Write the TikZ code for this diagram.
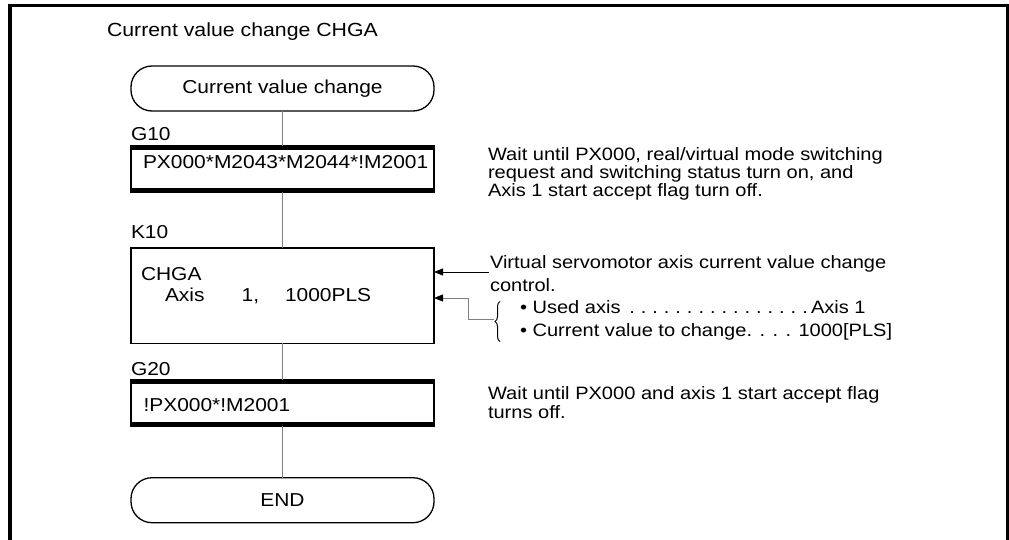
\documentclass[tikz,border=0pt]{standalone}
\usepackage{fontspec}
\setmainfont{Liberation Sans}[FakeStretch=1.12]
\usetikzlibrary{arrows.meta,decorations.pathreplacing}
\definecolor{conngray}{RGB}{128,128,128}
\begin{document}
\begin{tikzpicture}[x=1pt,y=-1pt,
  every node/.style={inner sep=0pt,outer sep=0pt},
  txt/.style={anchor=base west,font=\fontsize{17.9}{17.6}\selectfont},
  btxt/.style={anchor=base west,font=\fontsize{18.7}{18}\selectfont},
  term/.style={draw,line width=1.3pt,rounded corners=21pt,minimum width=303pt,minimum height=45pt,font=\fontsize{18.7}{18}\selectfont},
  cbox/.style={draw,line width=1.3pt,minimum width=303pt,fill=white},
  conn/.style={draw=conngray,line width=1pt},
  tip/.style={-{Triangle[length=9pt,width=7pt,color=black]}},
  frame/.style={line width=3.5pt}
]
\useasboundingbox (0,0) rectangle (1009,540);
% frame
\draw[frame] (9.8,548) -- (9.8,5.5) -- (1007.8,5.5) -- (1007.8,548);
% title
\node[btxt,font=\fontsize{19}{18}\selectfont] (title) at (107,36.7) {Current value change CHGA};
% flow nodes
\node[term] (start) at (282.5,88.5) {Current value change};
\node[cbox,minimum height=46.5pt] (g10) at (282.5,169.2) {};
\node[cbox,minimum height=95.3pt] (k10) at (282.5,295.6) {};
\node[cbox,minimum height=46pt] (g20) at (282.5,403) {};
\node[term] (end) at (282.5,500.2) {END};
% thick bars
\fill (g10.north west) rectangle ++(303,3.8);
\fill (g10.south west) rectangle ++(303,-4.2);
\fill (g20.north west) rectangle ++(303,4.2);
\fill (g20.south west) rectangle ++(303,-4.2);
% connectors
\draw[conn] (start) -- (g10);
\draw[conn] (g10) -- (k10);
\draw[conn] (k10) -- (g20);
\draw[conn] (g20) -- (end);
% step labels
\node[btxt] (lg10) at (131,141) {G10};
\node[btxt] (lk10) at (131,239) {K10};
\node[btxt] (lg20) at (131,375) {G20};
% box texts
\node[btxt] (tg10) at (143,169) {PX000*M2043*M2044*!M2001};
\node[btxt] (tk1) at (141,280) {CHGA};
\node[btxt] (tk2) at (165,301.7) {Axis};
\node[btxt] (tk3) at (241.7,301.7) {1,};
\node[btxt] (tk4) at (285,301.7) {1000PLS};
\node[btxt] (tg20) at (143.5,411.7) {!PX000*!M2001};
% comments
\node[txt] (cg1) at (488,161) {Wait until PX000, real/virtual mode switching};
\node[txt] (cg2) at (488,179) {request and switching status turn on, and};
\node[txt] (cg3) at (488,196.5) {Axis 1 start accept flag turn off.};
\node[txt] (ck1) at (490,268.5) {Virtual servomotor axis current value change};
\node[txt] (ck2) at (490,291) {control.};
\node[txt] (ck3) at (520,313.5) {\hbox to 291pt{\textbullet\ Used axis \xleaders\hbox to 11.1pt{\hss.\hss}\hfill}Axis 1};
\node[txt] (ck4) at (520,336) {\textbullet\ Current value to change. . . . 1000[PLS]};
\node[txt] (cz1) at (488,399.5) {Wait until PX000 and axis 1 start accept flag};
\node[txt] (cz2) at (488,418.5) {turns off.};
% arrows into K10
\coordinate (c1) at (489,272);
\coordinate (c2) at (468,298);
\coordinate (c3) at (468,319);
\coordinate (bt) at (494,319);
\draw[line width=1pt,tip] (c1) -- (c1 -| k10.east);
\draw[conn,tip] (bt) -- (c3) -- (c2) -- (c2 -| k10.east);
\draw[line width=1pt,decorate,decoration={brace,amplitude=5pt}] (500,341.5) -- (500,301.5);
\end{tikzpicture}
\end{document}
